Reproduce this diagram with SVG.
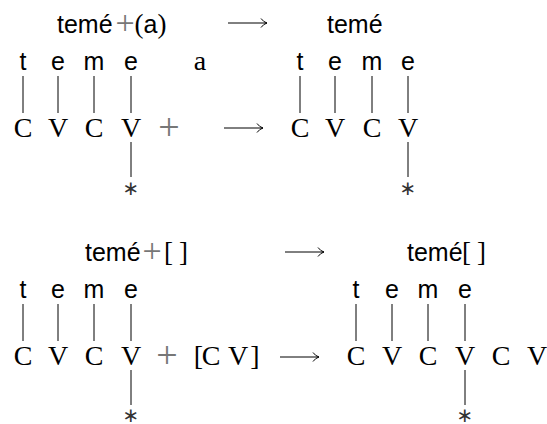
<svg xmlns="http://www.w3.org/2000/svg" width="547" height="424" viewBox="0 0 547 424">
<style>
.ss{font-family:"Liberation Sans","DejaVu Sans",sans-serif;font-size:25px;fill:#000}
.sr{font-family:"Liberation Serif","DejaVu Serif",serif;font-size:28px;fill:#000}
.br{font-family:"Liberation Serif","DejaVu Serif",serif;font-size:27px;fill:#000}
.pl{font-family:"Liberation Serif","DejaVu Serif",serif;font-size:38px;fill:#777}
.ph{font-family:"Liberation Serif","DejaVu Serif",serif;font-size:34px;fill:#777}
.st{font-family:"DejaVu Sans",sans-serif;font-size:20px;fill:#333;dominant-baseline:central}
.m{text-anchor:middle}
.ln{stroke:#000;stroke-width:1;fill:none}
</style>
<defs>
<g id="arr"><path class="ln" d="M0 0H39M33 -4.5Q35.5 -1 39 0Q35.5 1 33 4.5"/></g>
</defs>
<rect width="547" height="424" fill="#fff"/>

<!-- Top left -->
<g id="top-left">
  <g id="tl-header">
    <text class="ss" x="57" y="33">temé</text>
    <text class="ph m" x="125" y="33.5">+</text>
    <text class="br m" x="139" y="33">(</text>
    <text class="ss m" x="150.5" y="33">a</text>
    <text class="br m" x="162" y="33">)</text>
  </g>
  <g id="tl-melody">
    <text class="ss m" x="23" y="70">t</text>
    <text class="ss m" x="58" y="70">e</text>
    <text class="ss m" x="94" y="70">m</text>
    <text class="ss m" x="131" y="70">e</text>
    <text class="sr m" x="200" y="70">a</text>
  </g>
  <g id="tl-skeleton">
    <text class="sr m" x="23" y="137">C</text>
    <text class="sr m" x="58" y="137">V</text>
    <text class="sr m" x="94" y="137">C</text>
    <text class="sr m" x="131" y="137">V</text>
    <text class="pl m" x="169" y="139.5">+</text>
    <text class="st m" x="131" y="188">∗</text>
  </g>
</g>

<!-- Top right -->
<g id="top-right">
  <g id="tr-header">
    <text class="ss" x="327" y="33">temé</text>
  </g>
  <g id="tr-melody">
    <text class="ss m" x="300" y="70">t</text>
    <text class="ss m" x="335" y="70">e</text>
    <text class="ss m" x="372" y="70">m</text>
    <text class="ss m" x="408" y="70">e</text>
  </g>
  <g id="tr-skeleton">
    <text class="sr m" x="300" y="137">C</text>
    <text class="sr m" x="335" y="137">V</text>
    <text class="sr m" x="372" y="137">C</text>
    <text class="sr m" x="408" y="137">V</text>
    <text class="st m" x="408" y="188">∗</text>
  </g>
</g>

<!-- Bottom left -->
<g id="bottom-left">
  <g id="bl-header">
    <text class="ss" x="85" y="261">temé</text>
    <text class="ph m" x="152" y="261.5">+</text>
    <text class="br m" x="168.5" y="261">[</text>
    <text class="br m" x="183.5" y="261">]</text>
  </g>
  <g id="bl-melody">
    <text class="ss m" x="23" y="298">t</text>
    <text class="ss m" x="58" y="298">e</text>
    <text class="ss m" x="94" y="298">m</text>
    <text class="ss m" x="131" y="298">e</text>
  </g>
  <g id="bl-skeleton">
    <text class="sr m" x="23" y="365">C</text>
    <text class="sr m" x="58" y="365">V</text>
    <text class="sr m" x="94" y="365">C</text>
    <text class="sr m" x="131" y="365">V</text>
    <text class="pl m" x="167" y="367.5">+</text>
    <text class="sr m" x="198.5" y="365">[</text>
    <text class="sr m" x="211" y="365">C</text>
    <text class="sr m" x="238" y="365">V</text>
    <text class="sr m" x="255" y="365">]</text>
    <text class="st m" x="131" y="415">∗</text>
  </g>
</g>

<!-- Bottom right -->
<g id="bottom-right">
  <g id="br-header">
    <text class="ss" x="407" y="261">temé</text>
    <text class="br m" x="466.5" y="261">[</text>
    <text class="br m" x="481.5" y="261">]</text>
  </g>
  <g id="br-melody">
    <text class="ss m" x="356" y="298">t</text>
    <text class="ss m" x="392" y="298">e</text>
    <text class="ss m" x="428" y="298">m</text>
    <text class="ss m" x="465" y="298">e</text>
  </g>
  <g id="br-skeleton">
    <text class="sr m" x="356" y="365">C</text>
    <text class="sr m" x="392" y="365">V</text>
    <text class="sr m" x="428" y="365">C</text>
    <text class="sr m" x="465" y="365">V</text>
    <text class="sr m" x="501" y="365">C</text>
    <text class="sr m" x="537" y="365">V</text>
    <text class="st m" x="465" y="415">∗</text>
  </g>
</g>

<!-- Connectors -->
<g id="connectors">
  <path class="ln" d="M23 76V113M58 76V113M94 76V113M131 76V113M131 142V177"/>
  <path class="ln" d="M300 76V113M335 76V113M372 76V113M408 76V113M408 142V177"/>
  <path class="ln" d="M23 304V341M58 304V341M94 304V341M131 304V341M131 370V405"/>
  <path class="ln" d="M356 304V341M392 304V341M428 304V341M465 304V341M465 370V405"/>
  <use href="#arr" x="228" y="23"/>
  <use href="#arr" x="224" y="128"/>
  <use href="#arr" x="285" y="252"/>
  <use href="#arr" x="280" y="357"/>
</g>
</svg>
